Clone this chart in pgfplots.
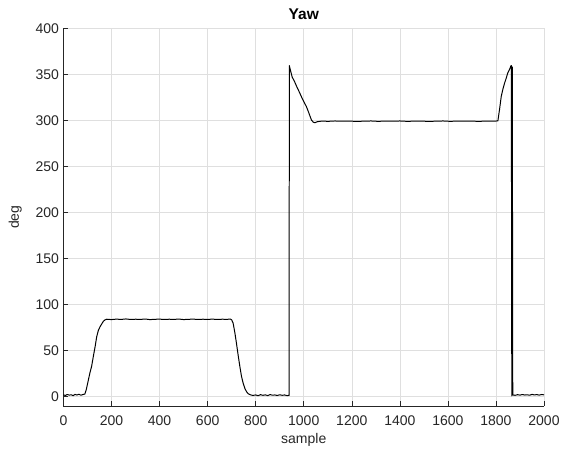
\documentclass[border=0pt]{standalone}
\usepackage{fontspec}
\setmainfont{Liberation Sans}
\usepackage{pgfplots}
\pgfplotsset{compat=1.18}
\definecolor{axgray}{RGB}{38,38,38}
\definecolor{gridgray}{RGB}{223,223,223}

% yaw angle log, one value per sample
\pgfplotstableread{
x y
0 2.0
8 1.5
16 2.5
24 1.8
32 2.2
40 1.2
48 2.6
56 1.9
64 2.8
72 1.7
80 2.4
89 3.0
95 8
100 14
105 20
110 26
117 33
125 45
132 55
138 65
145 72
152 76
159 79
166 82
173 83.5
180 84.2
200 83.8
220 84.3
240 84.0
260 84.5
280 83.9
300 84.2
320 84.0
340 84.4
360 83.8
380 84.1
400 84.3
420 83.9
440 84.2
460 84.0
480 84.4
500 83.8
520 84.1
540 84.3
560 83.9
580 84.2
600 84.0
620 84.3
640 83.9
660 84.2
680 84.1
695 84.3
700 83.5
706 80
713 70
720 58
727 45
734 33
741 22
748 14.6
755 9
762 5.5
768 3.5
775 2.5
782 1.8
789 1.5
800 2.0
810 1.2
820 2.3
830 1.6
840 2.1
850 1.3
860 2.4
870 1.7
880 2.0
890 1.4
900 2.2
910 1.6
920 2.0
930 1.3
939 1.5
940 359.5
945 354
952 347
962 342
972 336
983 330
995 323
1005 318
1011 315
1020 309
1027 304
1032 300.5
1040 298
1047 297.5
1055 298.5
1065 299
1080 299.3
1100 299.0
1130 299.4
1160 299.1
1190 299.3
1220 298.9
1250 299.2
1280 299.4
1310 299.0
1340 299.3
1370 299.1
1400 299.4
1430 299.0
1460 299.2
1490 299.3
1520 298.9
1550 299.2
1580 299.4
1610 299.0
1640 299.3
1670 299.1
1700 299.2
1730 299.0
1760 299.3
1790 299.1
1808 299.5
1815 312
1822 326
1829 334
1836 340.6
1843 346
1849 351.5
1856 355
1862 359
1864 359.5
1866 1.0
1868 358
1870 2.0
1880 1.6
1890 2.3
1900 1.8
1910 2.5
1920 1.9
1930 2.2
1940 1.7
1950 2.6
1960 2.0
1970 2.4
1980 1.8
1990 2.5
2000 2.1
}\yawdata

\begin{document}
\begin{tikzpicture}
\path[use as bounding box] (-63.5bp,-44bp) rectangle (498.5bp,406bp);
\begin{axis}[
  scale only axis,
  width=480.5bp, height=377.7bp,
  xmin=0, xmax=2000, ymin=-10, ymax=400,
  xtick={0,200,...,2000}, ytick={0,50,...,400},
  axis x line*=bottom, axis y line*=left,
  axis line style={axgray, line width=0.6pt, -},
  tick style={axgray, line width=0.6pt},
  tick align=inside, major tick length=5bp,
  grid=major, major grid style={gridgray, line width=0.6pt},
  font=\fontsize{14bp}{17bp}\selectfont,
  /pgf/number format/assume math mode=true,
  /pgf/number format/1000 sep={},
  ticklabel style={text=axgray},
  xticklabel style={yshift=-6bp},
  yticklabel style={xshift=-1bp},
  title={\textbf{Yaw}},
  title style={yshift=-1bp, font=\fontsize{15.5bp}{18bp}\selectfont},
  xlabel={sample}, ylabel={deg},
  xlabel style={text=axgray, yshift=-1bp},
  ylabel style={text=axgray, yshift=7bp},
  clip=true,
]
\addplot[black, line width=1pt, line join=round] table[x=x, y=y] {\yawdata};
\end{axis}
\end{tikzpicture}
\end{document}
